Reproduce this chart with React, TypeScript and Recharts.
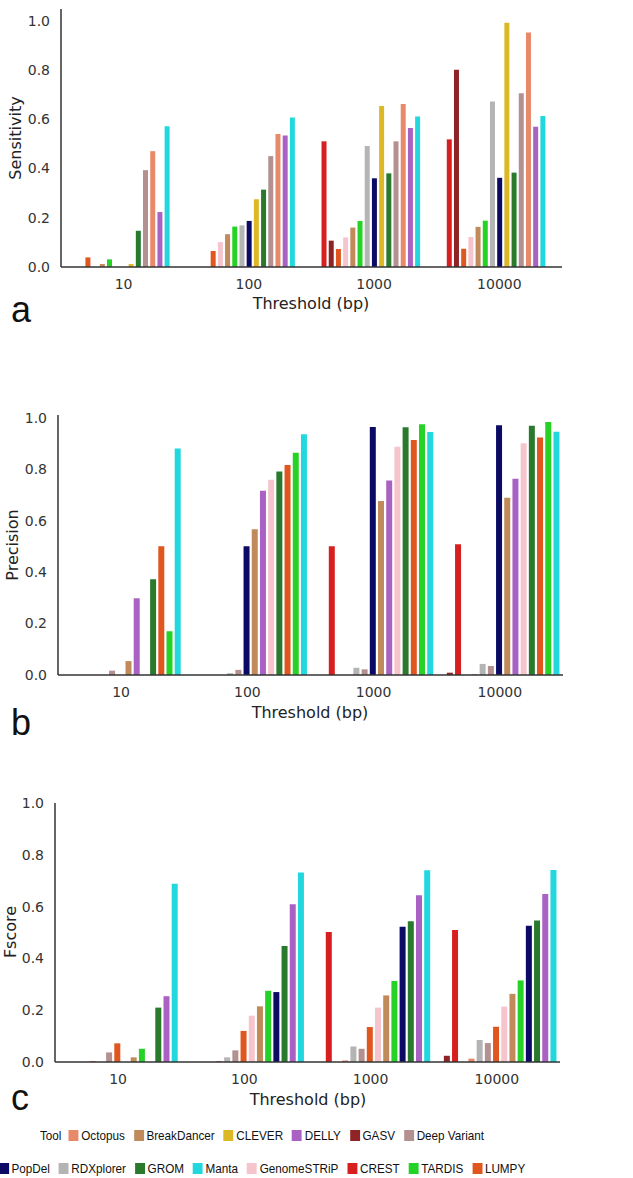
import React from 'react';
import { BarChart, Bar, XAxis, YAxis } from 'recharts';

const thresholds = ['10', '100', '1000', '10000'];

// legend order
const tools = [
  'Octopus', 'BreakDancer', 'CLEVER', 'DELLY', 'GASV', 'Deep Variant', 'PopDel',
  'RDXplorer', 'GROM', 'Manta', 'GenomeSTRiP', 'CREST', 'TARDIS', 'LUMPY',
];
const toolColors = [
  '#E8896A', '#C08A5A', '#DDB826', '#A962C4', '#8E2426', '#B39190', '#0B0B66',
  '#B4B4B4', '#2A7A2E', '#22D8DE', '#F6C4CC', '#D81F1F', '#26D226', '#E0561E',
];

// values per threshold, in legend order
const sens10 = [0.47, 0.012, 0.012, 0.223, 0, 0.393, 0, 0, 0.147, 0.571, 0, 0, 0.031, 0.039];
const sens100 = [0.54, 0.133, 0.275, 0.534, 0, 0.45, 0.187, 0.169, 0.314, 0.607, 0.101, 0, 0.164, 0.065];
const sens1000 = [0.661, 0.16, 0.653, 0.564, 0.107, 0.51, 0.36, 0.491, 0.38, 0.611, 0.12, 0.51, 0.187, 0.073];
const sens10000 = [0.952, 0.163, 0.991, 0.569, 0.8, 0.705, 0.362, 0.672, 0.383, 0.613, 0.122, 0.518, 0.188, 0.074];

const prec10 = [0, 0.054, 0, 0.298, 0, 0.017, 0, 0, 0.372, 0.88, 0, 0, 0.17, 0.5];
const prec100 = [0, 0.566, 0, 0.716, 0, 0.02, 0.5, 0.007, 0.791, 0.935, 0.758, 0, 0.863, 0.816];
const prec1000 = [0, 0.676, 0, 0.756, 0, 0.022, 0.963, 0.028, 0.962, 0.944, 0.887, 0.5, 0.974, 0.913];
const prec10000 = [0.003, 0.689, 0, 0.762, 0.009, 0.035, 0.97, 0.043, 0.968, 0.945, 0.9, 0.508, 0.983, 0.923];

const f10 = [0.004, 0.018, 0, 0.254, 0, 0.037, 0, 0, 0.21, 0.688, 0, 0, 0.051, 0.072];
const f100 = [0.004, 0.215, 0, 0.609, 0, 0.045, 0.27, 0.018, 0.448, 0.732, 0.179, 0, 0.275, 0.12];
const f1000 = [0.006, 0.257, 0, 0.644, 0, 0.051, 0.522, 0.06, 0.543, 0.74, 0.21, 0.502, 0.313, 0.135];
const f10000 = [0.013, 0.263, 0, 0.649, 0.024, 0.073, 0.526, 0.085, 0.546, 0.741, 0.214, 0.51, 0.315, 0.136];

// bar order inside each group, per panel
const orderA = ['CREST', 'GASV', 'LUMPY', 'GenomeSTRiP', 'BreakDancer', 'TARDIS', 'RDXplorer', 'PopDel', 'CLEVER', 'GROM', 'Deep Variant', 'Octopus', 'DELLY', 'Manta'];
const orderB = ['GASV', 'CREST', 'CLEVER', 'Octopus', 'RDXplorer', 'Deep Variant', 'PopDel', 'BreakDancer', 'DELLY', 'GenomeSTRiP', 'GROM', 'LUMPY', 'TARDIS', 'Manta'];
const orderC = ['GASV', 'CREST', 'CLEVER', 'Octopus', 'RDXplorer', 'Deep Variant', 'LUMPY', 'GenomeSTRiP', 'BreakDancer', 'TARDIS', 'PopDel', 'GROM', 'DELLY', 'Manta'];

const yTicks = [0, 0.2, 0.4, 0.6, 0.8, 1.0];

const legendRow1 = ['Octopus', 'BreakDancer', 'CLEVER', 'DELLY', 'GASV', 'Deep Variant'];
const legendRow2 = ['PopDel', 'RDXplorer', 'GROM', 'Manta', 'GenomeSTRiP', 'CREST', 'TARDIS', 'LUMPY'];

const colorOf = (tool: string) => toolColors[tools.indexOf(tool)];

function buildRows(byThreshold: number[][]) {
  return thresholds.map((t, i) => {
    const row: any = { threshold: t };
    tools.forEach((tool, j) => { row[tool] = byThreshold[i][j]; });
    return row;
  });
}

const sensData = buildRows([sens10, sens100, sens1000, sens10000]);
const precData = buildRows([prec10, prec100, prec1000, prec10000]);
const fData = buildRows([f10, f100, f1000, f10000]);

const tickStyle = { fill: '#333', fontSize: 14, fontFamily: 'DejaVu Sans' };

interface PanelProps {
  data: any[];
  order: string[];
  top: number;
  marginTop: number;
  yWidth: number;
  xHeight: number;
  marginRight: number;
  yMax: number;
}

const Panel: React.FC<PanelProps> = ({ data, order, top, marginTop, yWidth, xHeight, marginRight, yMax }) => (
  <div style={{ position: 'absolute', left: 0, top }}>
    <BarChart
      width={633}
      height={300}
      data={data}
      margin={{ top: marginTop, right: marginRight, bottom: 0, left: 0 }}
      barCategoryGap="8%"
      barGap={2.2}
    >
      <XAxis
        dataKey="threshold"
        height={xHeight}
        tickLine={false}
        tickMargin={6}
        tick={tickStyle}
        stroke="#333"
        strokeWidth={1.5}
      />
      <YAxis
        width={yWidth}
        domain={[0, yMax]}
        ticks={yTicks}
        tickFormatter={(v: number) => v.toFixed(1)}
        tickLine={false}
        tickMargin={5}
        tick={tickStyle}
        stroke="#333"
        strokeWidth={1.5}
        allowDataOverflow
      />
      {order.map((tool) => (
        <Bar key={tool} dataKey={tool} fill={colorOf(tool)} isAnimationActive={false} />
      ))}
    </BarChart>
  </div>
);

const LegendItem = ({ name }: { name: string }) => (
  <div style={{ display: 'flex', alignItems: 'center', flexShrink: 0, whiteSpace: 'nowrap' }}>
    <div style={{ width: 11, height: 11, background: colorOf(name), marginRight: 3 }} />
    <span>{name}</span>
  </div>
);

const rowStyle: React.CSSProperties = {
  display: 'flex', justifyContent: 'center', alignItems: 'center', height: 20, gap: 10,
};

export default function App() {
  return (
    <div style={{ position: 'absolute', left: 0, top: 0, width: 633, height: 1178, background: '#fff' }}>
      <Panel data={sensData} order={orderA} top={0} marginTop={9} yWidth={61} xHeight={33} marginRight={71} yMax={1.047} />
      <Panel data={precData} order={orderB} top={400} marginTop={15} yWidth={58} xHeight={25} marginRight={70} yMax={1.01} />
      <Panel data={fData} order={orderC} top={790} marginTop={13} yWidth={55} xHeight={28} marginRight={73} yMax={1.0} />

      <svg width={633} height={1178} style={{ position: 'absolute', left: 0, top: 0, pointerEvents: 'none' }}>
        <g fontFamily="DejaVu Sans" fontSize={16} fill="#222" textAnchor="middle">
          <text x={311} y={309}>Threshold (bp)</text>
          <text x={310} y={718}>Threshold (bp)</text>
          <text x={308} y={1105}>Threshold (bp)</text>
          <text transform="translate(21,138) rotate(-90)">Sensitivity</text>
          <text transform="translate(18,545) rotate(-90)">Precision</text>
          <text transform="translate(16,932) rotate(-90)">Fscore</text>
        </g>
        <g fontFamily="Liberation Sans" fontSize={36} fill="#111">
          <text x={11} y={322}>a</text>
          <text x={11} y={735}>b</text>
          <text x={11} y={1110}>c</text>
        </g>
      </svg>

      <div
        style={{
          position: 'absolute', left: 0, top: 1125, width: 524,
          fontFamily: 'Liberation Sans', fontSize: 13, color: '#111',
          transform: 'scaleX(0.9)', transformOrigin: '262px 0',
        }}
      >
        <div style={rowStyle}>
          <span style={{ marginRight: -2, flexShrink: 0 }}>Tool</span>
          {legendRow1.map((t) => <LegendItem key={t} name={t} />)}
        </div>
        <div style={{ ...rowStyle, marginTop: 13 }}>
          {legendRow2.map((t) => <LegendItem key={t} name={t} />)}
        </div>
      </div>
    </div>
  );
}
